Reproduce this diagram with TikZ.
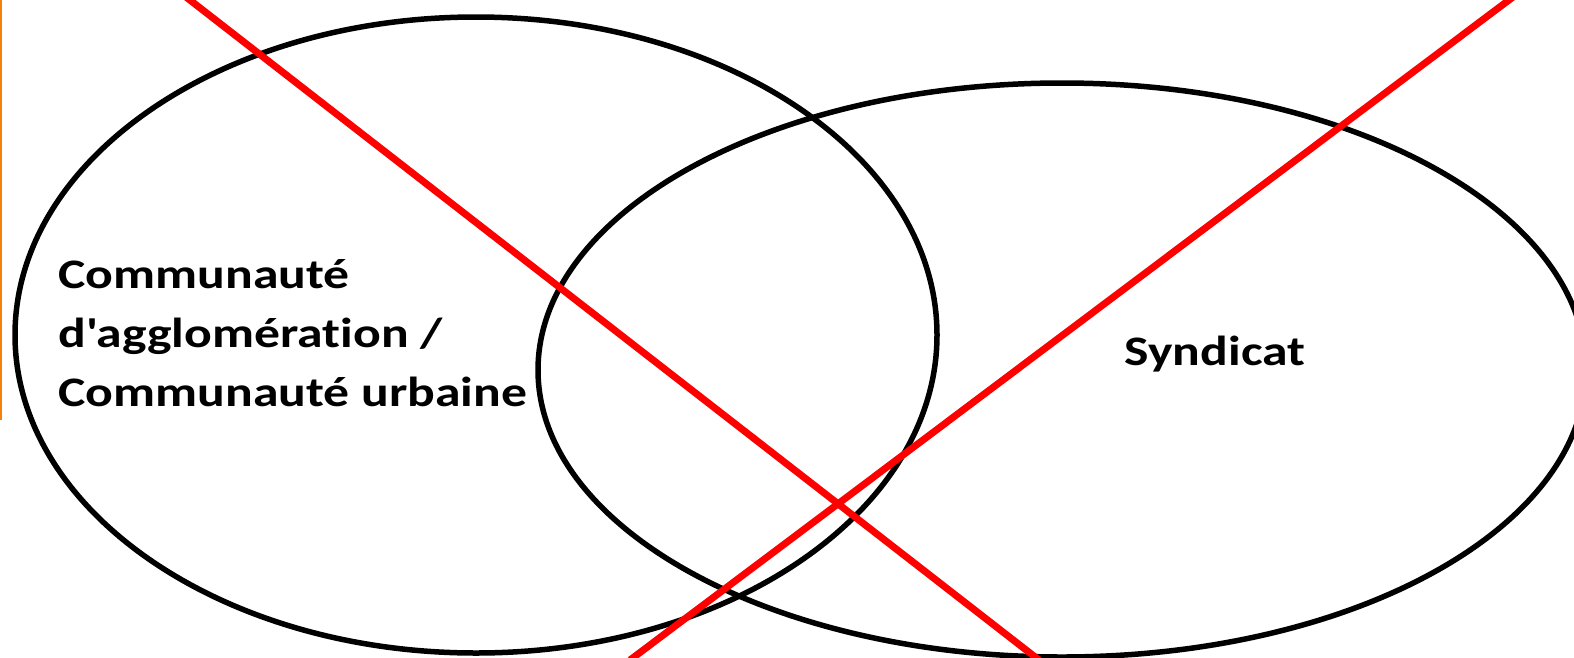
\documentclass[tikz,border=0pt]{standalone}
\usepackage{fontspec}
\setmainfont{Carlito}[FakeStretch=1.23,Ligatures={TeXOff,NoCommon}]
\usetikzlibrary{positioning,shapes.geometric}

\begin{document}
\begin{tikzpicture}[x=1pt,y=-1pt,
every node/.style={font=\bfseries\fontsize{42}{59}\selectfont},
venn/.style={draw,ellipse,line width=5.5pt,inner sep=0pt},
cross/.style={red,line width=7pt}]
\useasboundingbox (0,0) rectangle (1574,657);
\draw[orange!85!brown,line width=2.5pt] (1,0) -- (1,420);
% the two sets
\node[venn,minimum width=922pt,minimum height=636pt] (agglo) at (476,335) {};
\node[venn,minimum width=1048pt,minimum height=574pt] (synd) at (1062,370) {};
\node[anchor=west,align=left] (aggloText) at (55,333) {Communaut\'e\\d'agglom\'eration /\\Communaut\'e urbaine};
\node[anchor=base] (syndText) at (1215,365) {Syndicat};
% crossed out
\coordinate (a1) at (186,-3);
\coordinate (a2) at (1039,660);
\coordinate (b1) at (1513,-3);
\coordinate (b2) at (630,660);
\draw[cross] (a1) -- (a2);
\draw[cross] (b1) -- (b2);
\end{tikzpicture}
\end{document}
